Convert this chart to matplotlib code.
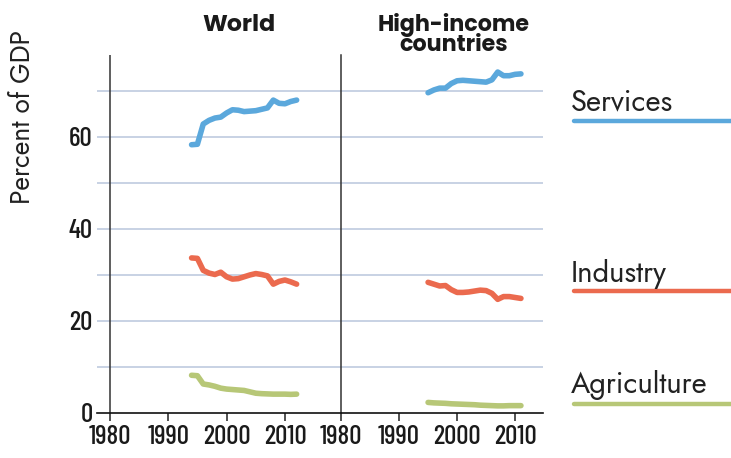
import numpy as np
import matplotlib
matplotlib.use('Agg')
import matplotlib.pyplot as plt
from matplotlib.lines import Line2D

# data (percent of GDP)
world_years = np.arange(1994, 2013)
world_services = [58.3, 58.4, 62.8, 63.6, 64.1, 64.3, 65.2, 65.9, 65.8, 65.5,
                  65.6, 65.7, 66.0, 66.3, 68.0, 67.3, 67.2, 67.7, 68.0]
world_industry = [33.7, 33.6, 31.0, 30.4, 30.1, 30.6, 29.6, 29.1, 29.2, 29.6,
                  30.0, 30.3, 30.1, 29.8, 28.0, 28.6, 28.9, 28.5, 28.0]
world_agriculture = [8.2, 8.1, 6.3, 6.1, 5.8, 5.4, 5.2, 5.1, 5.0, 4.9,
                     4.6, 4.3, 4.2, 4.15, 4.1, 4.1, 4.1, 4.05, 4.1]

high_years = np.arange(1995, 2012)
high_services = [69.6, 70.2, 70.6, 70.6, 71.6, 72.2, 72.3, 72.2, 72.1, 72.0,
                 71.9, 72.4, 74.1, 73.3, 73.3, 73.6, 73.7]
high_industry = [28.4, 28.0, 27.6, 27.7, 26.8, 26.2, 26.2, 26.3, 26.5, 26.7,
                 26.6, 26.0, 24.7, 25.3, 25.3, 25.1, 24.9]
high_agriculture = [2.3, 2.2, 2.15, 2.1, 2.0, 1.95, 1.9, 1.85, 1.8, 1.7,
                    1.65, 1.6, 1.55, 1.55, 1.6, 1.6, 1.6]

panel_titles = ['World', 'High-income\ncountries']
sector_names = ['Services', 'Industry', 'Agriculture']
sector_colors = ['#5BA8DC', '#EB6A4E', '#B7C777']
x_ticks = [1980, 1990, 2000, 2010]
y_labels = [0, 20, 40, 60]
grid_levels = [10, 20, 30, 40, 50, 60, 70]

tick_font = ['Barlow Condensed', 'DejaVu Sans']
text_font = ['Jost', 'DejaVu Sans']
title_font = ['Poppins', 'DejaVu Sans']
grid_color = '#C8D2E4'

fig = plt.figure(figsize=(7.31, 4.58), dpi=100)
W, H = 731.0, 458.0
bottom = 1 - 413 / H
height = (413 - 55) / H
ax1 = fig.add_axes([97 / W, bottom, (341 - 97) / W, height])
ax2 = fig.add_axes([341 / W, bottom, (543 - 341) / W, height])

panels = [
    (ax1, world_years, [world_services, world_industry, world_agriculture], (1977.8, 2019.6)),
    (ax2, high_years, [high_services, high_industry, high_agriculture], (1980, 2014.8)),
]

for i, (ax, years, series, xlim) in enumerate(panels):
    for lvl in grid_levels:
        ax.axhline(lvl, color=grid_color, lw=1.4, zorder=1)
    for vals, col in zip(series, sector_colors):
        ax.plot(years, vals, color=col, lw=4.0, solid_capstyle='round',
                solid_joinstyle='round', zorder=3)
    ax.set_xlim(*xlim)
    ax.set_ylim(0, 77.8)
    ax.set_xticks(x_ticks)
    ax.set_xticklabels([str(t) for t in x_ticks], fontsize=19.5, family=tick_font,
                       fontweight=500, color='#1a1a1a')
    ax.tick_params(axis='x', direction='out', length=6, width=1.1, color='#222222', pad=3)
    for s in ['top', 'right']:
        ax.spines[s].set_visible(False)
    ax.spines['bottom'].set_color('#111111')
    ax.spines['bottom'].set_linewidth(1.2)
    ax.set_facecolor('none')

fig.text(239 / W, 1 - 31 / H, panel_titles[0], ha='center', va='baseline',
         fontsize=17, fontweight='bold', family=title_font, color='#1a1a1a')
fig.text(454 / W, 1 - 51 / H, panel_titles[1], ha='center', va='baseline',
         fontsize=16, fontweight='bold', family=title_font, color='#1a1a1a',
         linespacing=0.8)

ax1.spines['left'].set_visible(False)
ax1.axvline(1980, color='#333333', lw=1.1, zorder=2)
ax1.set_yticks(y_labels)
ax1.set_yticklabels([str(v) for v in y_labels], fontsize=19.5, family=tick_font,
                    fontweight=500, color='#1a1a1a')
ax1.tick_params(axis='y', length=0, pad=3)

ax2.spines['left'].set_color('#333333')
ax2.spines['left'].set_linewidth(1.1)
ax2.set_yticks([])

fig.text(22 / W, 1 - 117 / H, 'Percent of GDP', rotation=90, ha='center', va='center',
         fontsize=19, color='#222222', family=text_font, fontweight=300)

# labels on the right
label_base = [110, 281.7, 393]
line_y = [121, 291, 404]
for name, col, yb, yl in zip(sector_names, sector_colors, label_base, line_y):
    fig.text(571 / W, 1 - yb / H, name, ha='left', va='baseline', fontsize=21,
             color='#222222', family=text_font, fontweight=300)
    fig.add_artist(Line2D([574 / W, 1.02], [1 - yl / H, 1 - yl / H], color=col, lw=3.2,
                          solid_capstyle='round', transform=fig.transFigure))

fig.savefig('out.png', dpi=100)
